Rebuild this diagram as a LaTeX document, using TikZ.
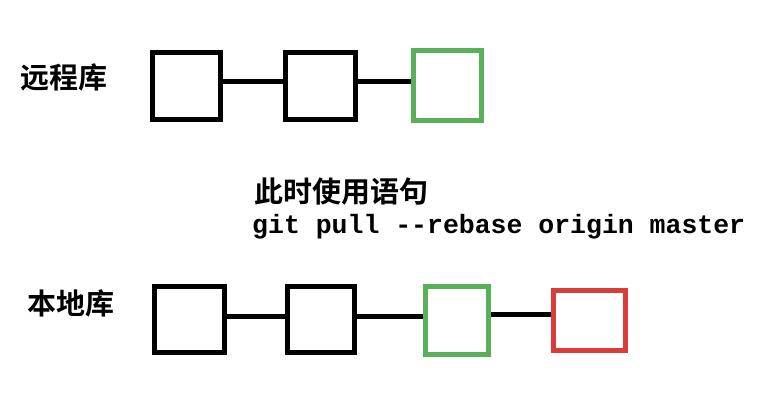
\documentclass[tikz,border=0pt]{standalone}
\usepackage{fontspec}
\setmonofont{Liberation Mono}
\newfontfamily\cjk{Noto Sans CJK SC}[BoldFont={* Bold}]
\definecolor{commitgreen}{RGB}{88,176,88}
\definecolor{commitred}{RGB}{220,60,55}
\tikzset{
	commit/.style={draw, line width=5pt, rectangle, inner sep=0pt},
	link/.style={line width=5pt},
	repolabel/.style={anchor=west, inner sep=0pt, font=\cjk\bfseries\fontsize{29}{29}\selectfont},
}

\begin{document}
\begin{tikzpicture}[x=1pt, y=-1pt]
	\useasboundingbox (0,0) rectangle (774,404);
	\begin{scope}
		% remote
		\node[repolabel] (remote) at (20, 77) {远程库};
		\node[commit, minimum width=68pt, minimum height=67pt] (r1) at (186.5, 86) {};
		\node[commit, minimum width=70pt, minimum height=67pt] (r2) at (320, 86) {};
		\node[commit, draw=commitgreen, minimum width=68pt, minimum height=70pt] (r3) at (447.5, 85.5) {};
		\draw[link] ([yshift=4pt]r1.east) -- ([yshift=4pt]r2.west); % r1 - r2
		\draw[link] ([yshift=4pt]r2.east) -- ([yshift=3.5pt]r3.west); % r2 - r3

		% command
		\node[repolabel] (say) at (254, 192) {此时使用语句};
		\node[anchor=west, inner sep=0pt, font=\ttfamily\bfseries\fontsize{26.5}{26.5}\selectfont] (cmd) at (252, 227) {git pull -{}-rebase origin master};

		% local
		\node[repolabel] (local) at (27, 303) {本地库};
		\node[commit, minimum width=70pt, minimum height=66pt] (b1) at (189.5, 319.5) {};
		\node[commit, minimum width=67pt, minimum height=66pt] (b2) at (321, 319.5) {};
		\node[commit, draw=commitgreen, minimum width=63pt, minimum height=68pt] (b3) at (457, 320.5) {};
		\node[commit, draw=commitred, minimum width=72pt, minimum height=60pt] (b4) at (589.5, 320.5) {};
		\draw[link] ([yshift=3.5pt]b1.east) -- ([yshift=3.5pt]b2.west); % b1 - b2
		\draw[link] ([yshift=3.5pt]b2.east) -- ([yshift=4.5pt]b3.west); % b2 - b3
		\draw[link] ([yshift=6.5pt]b3.east) -- ([yshift=6.5pt]b4.west); % b3 - b4
	\end{scope}
\end{tikzpicture}
\end{document}
